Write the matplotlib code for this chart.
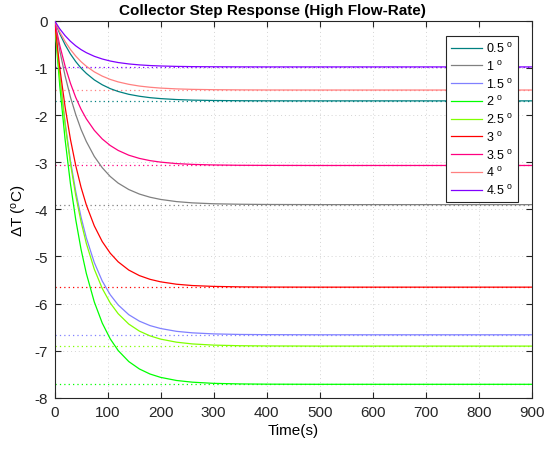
import matplotlib
matplotlib.use("Agg")
import matplotlib.pyplot as plt

plt.rcParams['font.family'] = ['Liberation Sans', 'DejaVu Sans']
plt.rcParams['mathtext.fontset'] = 'custom'
plt.rcParams['mathtext.rm'] = 'Liberation Sans'
plt.rcParams['mathtext.it'] = 'Liberation Sans:italic'
plt.rcParams['axes.unicode_minus'] = False

# time samples (s)
time_s = [0, 10, 20, 30, 40, 50, 60, 75, 90, 105, 120, 140, 160, 180, 200,
          230, 260, 300, 350, 400, 500, 900]

labels = ['0.5', '1', '1.5', '2', '2.5', '3', '3.5', '4', '4.5']
colors = ['#008080', '#808080', '#8080ff', '#00ff00', '#80ff00',
          '#ff0000', '#ff0080', '#ff8080', '#8000ff']

# final (steady-state) values of Delta T
final_vals = [-1.70, -3.90, -6.66, -7.71, -6.90, -5.65, -3.07, -1.47, -0.98]

# responses
resp_05 = [0, -0.279, -0.510, -0.706, -0.867, -1.005, -1.117, -1.255, -1.359, -1.440, -1.501,
           -1.561, -1.602, -1.632, -1.652, -1.672, -1.684, -1.692, -1.697, -1.699, -1.70, -1.70]
resp_10 = [0, -0.640, -1.170, -1.619, -1.989, -2.305, -2.562, -2.878, -3.118, -3.303, -3.444,
           -3.580, -3.676, -3.743, -3.790, -3.836, -3.863, -3.882, -3.892, -3.897, -3.90, -3.90]
resp_15 = [0, -1.185, -2.158, -2.964, -3.620, -4.163, -4.606, -5.128, -5.521, -5.810, -6.027,
           -6.234, -6.371, -6.465, -6.527, -6.587, -6.619, -6.641, -6.653, -6.657, -6.66, -6.66]
resp_20 = [0, -1.388, -2.521, -3.454, -4.217, -4.846, -5.360, -5.964, -6.412, -6.746, -6.994,
           -7.228, -7.385, -7.492, -7.563, -7.629, -7.665, -7.690, -7.702, -7.707, -7.71, -7.71]
resp_25 = [0, -1.208, -2.203, -3.025, -3.703, -4.262, -4.724, -5.269, -5.678, -5.984, -6.213,
           -6.433, -6.582, -6.683, -6.752, -6.817, -6.854, -6.879, -6.892, -6.897, -6.90, -6.90]
resp_30 = [0, -1.006, -1.831, -2.514, -3.071, -3.531, -3.908, -4.351, -4.684, -4.929, -5.113,
           -5.288, -5.405, -5.484, -5.537, -5.588, -5.616, -5.634, -5.644, -5.648, -5.65, -5.65]
resp_35 = [0, -0.528, -0.964, -1.326, -1.627, -1.876, -2.081, -2.324, -2.508, -2.646, -2.751,
           -2.852, -2.920, -2.967, -2.999, -3.030, -3.047, -3.059, -3.066, -3.068, -3.07, -3.07]
resp_40 = [0, -0.241, -0.441, -0.610, -0.750, -0.869, -0.966, -1.085, -1.175, -1.245, -1.298,
           -1.349, -1.386, -1.411, -1.429, -1.446, -1.456, -1.463, -1.467, -1.469, -1.47, -1.47]
resp_45 = [0, -0.174, -0.318, -0.436, -0.533, -0.613, -0.678, -0.755, -0.812, -0.855, -0.887,
           -0.917, -0.937, -0.951, -0.960, -0.969, -0.974, -0.977, -0.979, -0.980, -0.98, -0.98]

responses = [resp_05, resp_10, resp_15, resp_20, resp_25, resp_30, resp_35, resp_40, resp_45]

xticks = [0, 100, 200, 300, 400, 500, 600, 700, 800, 900]
yticks = [0, -1, -2, -3, -4, -5, -6, -7, -8]

fig = plt.figure(figsize=(5.55, 4.52), dpi=100)
ax = fig.add_axes([0.0982, 0.1173, 0.8604, 0.8347])

for fv, c in zip(final_vals, colors):
    ax.plot([time_s[0], time_s[-1]], [fv, fv], color=c, lw=0.9,
            linestyle=(0, (1, 2.5)), zorder=2)

handles = []
for resp, c, lab in zip(responses, colors, labels):
    h, = ax.plot(time_s, resp, color=c, lw=0.9, label=lab + r' $^\mathrm{o}$', zorder=3)
    handles.append(h)

ax.set_xlim(0, 900)
ax.set_ylim(-8, 0)
ax.set_xticks(xticks)
ax.set_yticks(yticks)
ax.set_xticklabels([str(v) for v in xticks])
ax.set_yticklabels([str(v) for v in yticks])
ax.tick_params(direction='in', top=True, right=True, length=4, width=0.8,
               labelsize=11, colors='#262626', pad=5)
for sp in ax.spines.values():
    sp.set_color('#262626')
    sp.set_linewidth(0.8)
ax.grid(True, color='#d4d4d4', linestyle=(0, (1, 3)), linewidth=0.7)
ax.set_axisbelow(True)

ax.set_title('Collector Step Response (High Flow-Rate)', fontsize=11,
             fontweight='bold', pad=5, x=0.4555)
ax.set_xlabel('Time(s)', fontsize=11, labelpad=3)
ax.set_ylabel(r'$\Delta$T ($^\mathrm{o}$C)', fontsize=11, labelpad=4)

leg = ax.legend(handles=handles, loc='upper right', bbox_to_anchor=(0.9707, 0.9595),
                borderaxespad=0, fontsize=9, frameon=True, fancybox=False,
                edgecolor='#262626', framealpha=1, handlelength=2.5,
                labelspacing=0.3, handletextpad=0.3, borderpad=0.4)
leg.get_frame().set_linewidth(0.8)

fig.savefig('out.png', dpi=100)
